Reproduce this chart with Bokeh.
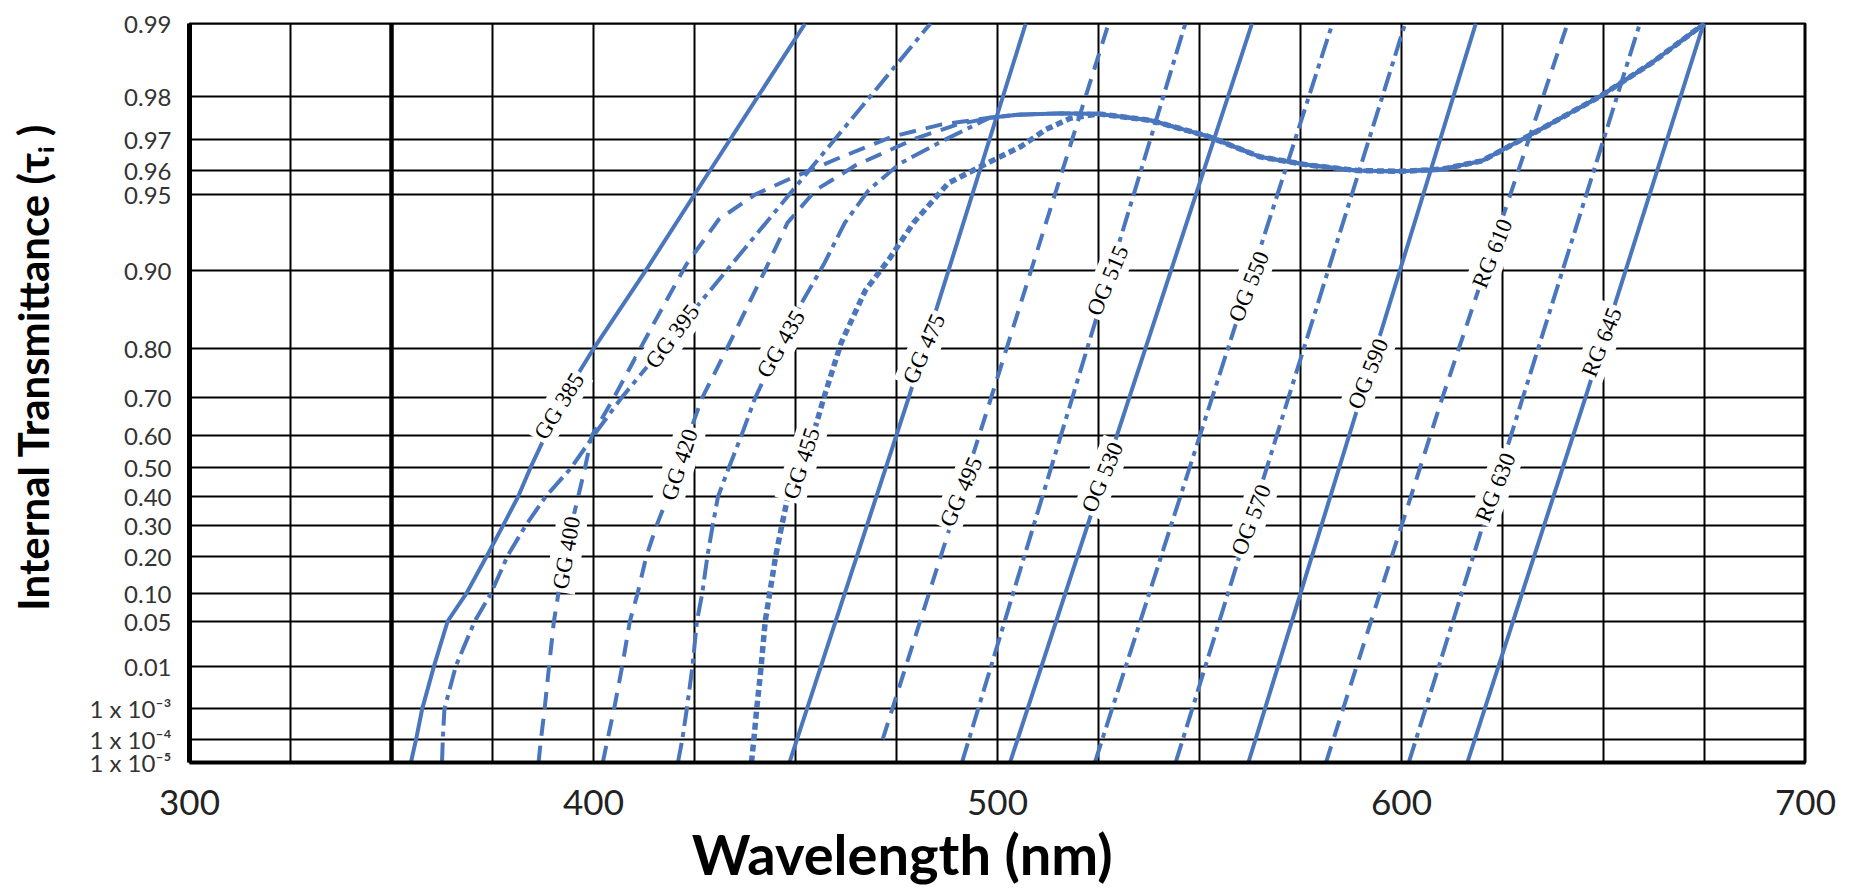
import numpy as np
from bokeh.plotting import figure
from bokeh.models import Range1d, FixedTicker, Label, Span
from bokeh.embed import file_html
from bokeh.resources import INLINE

# ---------------- axis definitions ----------------
X_TICKS = list(range(300, 701, 25))
X_LABELED = [300, 400, 500, 600, 700]
Y_TICK_T = [0.99, 0.98, 0.97, 0.96, 0.95, 0.90, 0.80, 0.70, 0.60, 0.50,
            0.40, 0.30, 0.20, 0.10, 0.05, 0.01, 1e-3, 1e-4, 1e-5]
Y_TICK_LABELS = ["0.99", "0.98", "0.97", "0.96", "0.95", "0.90", "0.80", "0.70",
                 "0.60", "0.50", "0.40", "0.30", "0.20", "0.10", "0.05", "0.01",
                 "1 x 10\u207b\u00b3", "1 x 10\u207b\u2074", "1 x 10\u207b\u2075"]
X_TITLE = "Wavelength (nm)"
Y_TITLE = "Internal Transmittance (\u03c4\u1d62 )"

# ---------------- data (wavelength nm, internal transmittance) ----------------
COMMON_WL = [498, 505, 515, 525, 538, 552, 565, 577, 589, 600, 610, 620, 633, 649, 662, 675]
COMMON_T = [0.9756, 0.9763, 0.9766, 0.9765, 0.9750, 0.9710, 0.9648, 0.9620, 0.9600,
            0.9597, 0.9605, 0.9635, 0.9720, 0.9800, 0.9855, 0.9900]

GG385_WL = [354.8, 356.1, 357.6, 360.5, 363.9, 368.5, 373.6, 377.6, 381.3, 384.4, 392.5, 400.0, 413.0, 425.0, 452.4]
GG385_T = [1e-5, 1e-4, 1e-3, 0.01, 0.05, 0.10, 0.20, 0.30, 0.40, 0.50, 0.70, 0.80, 0.90, 0.95, 0.99]

GG395_WL = [362.5, 362.7, 363.1, 365.9, 370.6, 374.6, 378.7, 383.2, 388.1, 394.5, 400.0, 406.9, 483.4]
GG395_T = [1e-5, 1e-4, 1e-3, 0.01, 0.05, 0.10, 0.20, 0.30, 0.40, 0.50, 0.60, 0.70, 0.99]

GG400_WL = [386.4, 387.0, 387.9, 389.0, 390.2, 391.3, 392.8, 394.5, 396.2, 397.9, 399.6, 405.0,
            415.0, 423.0, 431.0, 440.0, 448.5, 460.0, 474.0, 486.0]
GG400_T = [1e-5, 1e-4, 1e-3, 0.01, 0.05, 0.10, 0.20, 0.30, 0.40, 0.50, 0.60, 0.70,
           0.84, 0.905, 0.937, 0.950, 0.9567, 0.964, 0.9709, 0.974]

GG420_WL = [402.3, 403.5, 405.1, 407.1, 409.0, 410.9, 413.1, 415.6, 418.4, 420.8, 423.5, 426.9,
            433.0, 442.5, 448.0, 455.0, 465.0, 480.0, 490.0]
GG420_T = [1e-5, 1e-4, 1e-3, 0.01, 0.05, 0.10, 0.20, 0.30, 0.40, 0.50, 0.60, 0.70,
           0.80, 0.90, 0.935, 0.952, 0.962, 0.9705, 0.974]

GG435_WL = [420.9, 422.0, 423.1, 424.5, 425.6, 426.9, 428.2, 429.5, 430.8, 433.5, 436.6, 440.0,
            446.4, 451.9, 457.0, 462.2, 468.1, 475.8, 486.9]
GG435_T = [1e-5, 1e-4, 1e-3, 0.01, 0.05, 0.10, 0.20, 0.30, 0.40, 0.50, 0.60, 0.70,
           0.81, 0.869, 0.905, 0.935, 0.952, 0.9625, 0.970]

GG455_WL = [439.1, 439.7, 440.4, 441.5, 442.5, 443.6, 445.1, 446.6, 448.1, 451.3, 454.3, 457.0,
            461.3, 467.3, 473.3, 479.2, 487.8, 497.2, 505.7, 512.0, 518.0]
GG455_T = [1e-5, 1e-4, 1e-3, 0.01, 0.05, 0.10, 0.20, 0.30, 0.40, 0.50, 0.60, 0.70,
           0.81, 0.88, 0.91, 0.935, 0.955, 0.9625, 0.968, 0.9728, 0.9755]

GG475_WL = [448.5, 478.0, 507.0]
GG475_T = [1e-5, 0.70, 0.99]
GG495_WL = [471.6, 498.4, 527.5]
GG495_T = [1e-4, 0.70, 0.99]
OG515_WL = [491.2, 518.5, 546.5]
OG515_T = [1e-5, 0.70, 0.99]
OG530_WL = [503.1, 532.6, 563.0]
OG530_T = [1e-5, 0.70, 0.99]
OG550_WL = [524.1, 553.1, 582.9]
OG550_T = [1e-5, 0.70, 0.99]
OG570_WL = [544.1, 572.0, 600.9]
OG570_T = [1e-5, 0.70, 0.99]
OG590_WL = [562.1, 589.9, 618.4]
OG590_T = [1e-5, 0.70, 0.99]
RG610_WL = [581.3, 610.1, 641.1]
RG610_T = [1e-5, 0.70, 0.99]
RG630_WL = [601.8, 630.0, 659.0]
RG630_T = [1e-5, 0.70, 0.99]
RG645_WL = [616.3, 645.5, 674.8]
RG645_T = [1e-5, 0.70, 0.99]

LABEL_NAMES = ["GG 385", "GG 395", "GG 400", "GG 420", "GG 435", "GG 455", "GG 475", "GG 495",
               "OG 515", "OG 530", "OG 550", "OG 570", "OG 590", "RG 610", "RG 630", "RG 645"]
LABEL_WL = [391.5, 419.5, 393.3, 421.3, 446.4, 451.5, 481.8, 491.0,
            527.3, 526.0, 562.2, 562.8, 591.7, 622.5, 623.3, 649.6]
LABEL_T = [0.68, 0.82, 0.21, 0.51, 0.808, 0.514, 0.80, 0.418,
           0.89, 0.468, 0.884, 0.32, 0.753, 0.914, 0.433, 0.811]
LABEL_ANGLE = [58, 53, 80, 72, 60, 72, 66, 66, 67, 67, 68, 69, 68, 68, 68, 68]

# ---------------- styling ----------------
BLUE = "#4A76BE"
SOLID = "solid"
DASH = "17 10"
DASHDOT = "20 6 5 6"
DOT = "7 4"


def tr(t):
    """double-logarithmic transmittance scale"""
    return -np.log10(-np.log(np.asarray(t, dtype=float)))


def with_common(wl, t):
    cw = [w for w in COMMON_WL if w > wl[-1]]
    ct = [COMMON_T[i] for i, w in enumerate(COMMON_WL) if w > wl[-1]]
    return list(wl) + cw, list(t) + ct


SERIES = [
    (GG385_WL, GG385_T, SOLID, 4, False),
    (GG395_WL, GG395_T, DASHDOT, 4, False),
    (GG400_WL, GG400_T, DASH, 4, True),
    (GG420_WL, GG420_T, DASH, 4, True),
    (GG435_WL, GG435_T, DASHDOT, 4, True),
    (GG455_WL, GG455_T, DOT, 5.5, True),
    (GG475_WL, GG475_T, SOLID, 4, False),
    (GG495_WL, GG495_T, DASH, 4, False),
    (OG515_WL, OG515_T, DASHDOT, 4, False),
    (OG530_WL, OG530_T, SOLID, 4, False),
    (OG550_WL, OG550_T, DASHDOT, 4, False),
    (OG570_WL, OG570_T, DASHDOT, 4, False),
    (OG590_WL, OG590_T, SOLID, 4, False),
    (RG610_WL, RG610_T, DASH, 4, False),
    (RG630_WL, RG630_T, DASHDOT, 4, False),
    (RG645_WL, RG645_T, SOLID, 4, False),
]

y_lo = float(tr(1e-5))
y_hi = float(tr(0.99))

p = figure(width=1851, height=890, output_backend="svg", toolbar_location=None,
           x_range=Range1d(300, 700), y_range=Range1d(y_lo - 1e-9, y_hi + 1e-9),
           min_border_left=189, min_border_right=46, min_border_top=23, min_border_bottom=128,
           background_fill_color="white", border_fill_color="white")

p.outline_line_color = "black"
p.outline_line_width = 2

# x axis (title shifted left of centre, as in the original)
p.xaxis.ticker = FixedTicker(ticks=X_TICKS)
p.xaxis.major_label_overrides = {v: (str(v) if v in X_LABELED else "") for v in X_TICKS}
p.xaxis.major_label_text_font = "Lato"
p.xaxis.major_label_text_font_size = "35px"
p.xaxis.major_label_text_color = "#222222"
p.xaxis.major_label_standoff = 21
p.xaxis.axis_line_width = 4
p.xaxis.axis_line_color = "black"
p.xaxis.axis_label = X_TITLE + "\u00a0" * 14
p.xaxis.axis_label_text_font = "Lato"
p.xaxis.axis_label_text_font_style = "bold"
p.xaxis.axis_label_text_font_size = "56px"
p.xaxis.axis_label_text_color = "black"
p.xaxis.axis_label_standoff = 2

# y axis
y_ticks = [float(v) for v in tr(Y_TICK_T)]
p.yaxis.ticker = FixedTicker(ticks=y_ticks)
p.yaxis.major_label_overrides = {v: lab for v, lab in zip(y_ticks, Y_TICK_LABELS)}
p.yaxis.axis_label = "\u00a0" * 5 + Y_TITLE
p.yaxis.axis_label_text_font = "Lato"
p.yaxis.axis_label_text_font_style = "bold"
p.yaxis.axis_label_text_font_size = "42px"
p.yaxis.axis_label_text_color = "black"
p.yaxis.axis_label_standoff = 28
p.yaxis.major_label_text_font = "Lato"
p.yaxis.major_label_text_font_size = "24px"
p.yaxis.major_label_text_color = "#333333"
p.yaxis.major_label_standoff = 12
p.yaxis.axis_line_width = 5
p.yaxis.axis_line_color = "black"

for ax in (p.xaxis, p.yaxis):
    ax.major_tick_line_color = None
    ax.minor_tick_line_color = None

p.xgrid.grid_line_color = "black"
p.xgrid.grid_line_width = 2
p.ygrid.grid_line_color = "black"
p.ygrid.grid_line_width = 2

p.add_layout(Span(location=350, dimension="height", line_color="black", line_width=4.5, level="underlay"))
p.add_layout(Span(location=700, dimension="height", line_color="black", line_width=4, level="underlay"))

for wl, t, dash, w, merge in SERIES:
    if merge:
        wl, t = with_common(wl, t)
    p.line(wl, tr(t), line_color=BLUE, line_width=w, line_dash=dash,
           line_cap="butt", line_join="round")

for name, lx, lt, ang in zip(LABEL_NAMES, LABEL_WL, LABEL_T, LABEL_ANGLE):
    p.add_layout(Label(x=lx, y=float(tr(lt)), text=name, angle=ang, angle_units="deg",
                       text_align="center", text_baseline="middle",
                       text_font="Liberation Serif", text_font_size="23px", text_color="black",
                       background_fill_color="white", padding=3))

open("out.html", "w").write(file_html(p, INLINE))
